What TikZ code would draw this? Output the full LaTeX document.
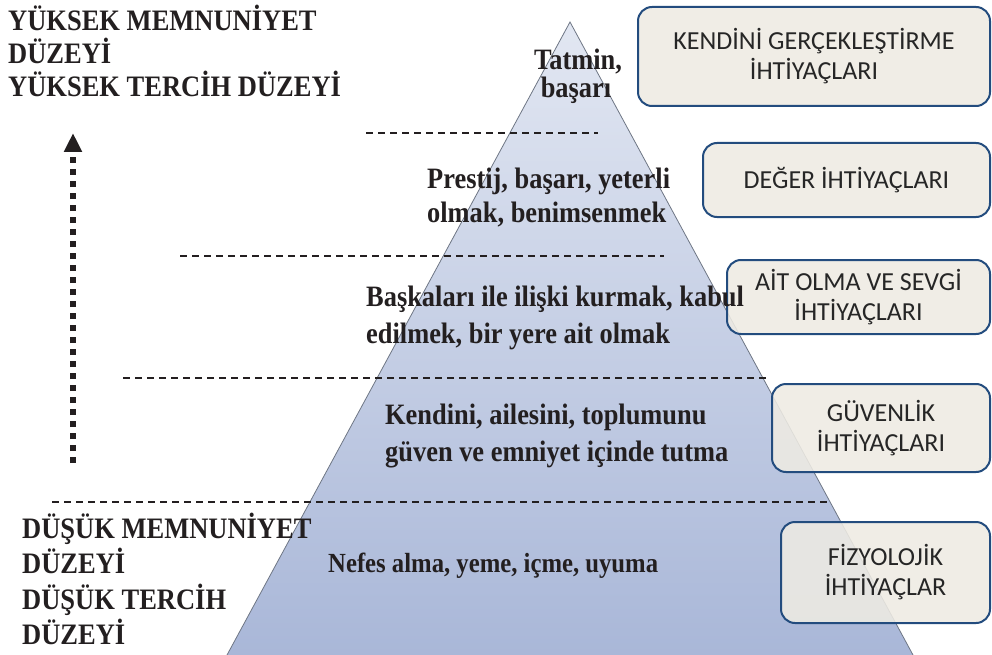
\documentclass[tikz,border=0pt]{standalone}
\usepackage{fontspec}
\setmainfont{Liberation Serif}
\newfontfamily\boxfont{Carlito}
\usetikzlibrary{arrows.meta}
\definecolor{boxfill}{HTML}{EEEBE3}
\definecolor{boxline}{HTML}{234C7E}
\definecolor{pyrtop}{HTML}{E2E7F2}
\definecolor{pyrbot}{HTML}{A9B7D8}
\definecolor{pyredge}{HTML}{6E7684}
\definecolor{txtdark}{HTML}{231F20}
\definecolor{boxtxt}{HTML}{262626}
\newcommand{\tallt}[1]{\scalebox{1}[1.12]{#1}}
\tikzset{
  needbox/.style={draw=boxline, line width=2pt, rounded corners=14pt, fill=boxfill, fill opacity=0.88, text opacity=1, text=boxtxt, align=center, inner sep=0pt, font=\boxfont\fontsize{26}{30}\selectfont},
  headtxt/.style={anchor=base west, inner sep=0pt, text=txtdark, font=\fontsize{26.5}{32}\selectfont\bfseries},
  innertxt/.style={inner sep=0pt, text=txtdark, font=\fontsize{26.4}{32}\selectfont\bfseries},
  levelline/.style={dash pattern=on 7pt off 5pt, line width=1.6pt, draw=txtdark},
  pyredgeline/.style={draw=pyredge, line width=0.8pt}
}
\begin{document}
\begin{tikzpicture}[x=1pt,y=-1pt]
\useasboundingbox (0,0) rectangle (992,655);
% pyramid
\coordinate (apex) at (570,22);
\coordinate (bl) at (227,655);
\coordinate (br) at (913,655);
\shade[top color=pyrtop, bottom color=pyrbot] (apex) -- (bl) -- (br) -- cycle;
\draw[pyredgeline] (bl) -- (apex) -- (br);
% dashed level lines
\coordinate (l1a) at (366,133); \coordinate (l1b) at (598,133);
\coordinate (l2a) at (180,256); \coordinate (l2b) at (664,256);
\coordinate (l3a) at (123,378); \coordinate (l3b) at (770,378);
\coordinate (l4a) at (52,502);  \coordinate (l4b) at (831,502);
\draw[levelline] (l1a) -- (l1b);
\draw[levelline] (l2a) -- (l2b);
\draw[levelline] (l3a) -- (l3b);
\draw[levelline] (l4a) -- (l4b);
% arrow
\coordinate (arrbot) at (73,463);
\coordinate (arrtop) at (73,133);
\draw[line width=6pt, dash pattern=on 6pt off 6pt, draw=txtdark, -{Triangle[width=17pt,length=19pt]}] (arrbot) -- (arrtop);
% boxes
\node[needbox, minimum width=352pt, minimum height=99pt] (b1) at (814,56.5) {KENDİNİ GERÇEKLEŞTİRME\\İHTİYAÇLARI};
\node[needbox, minimum width=287pt, minimum height=74pt] (b2) at (846.5,180) {DEĞER İHTİYAÇLARI};
\node[needbox, minimum width=263pt, minimum height=74pt] (b3) at (858.5,297) {AİT OLMA VE SEVGİ\\İHTİYAÇLARI};
\node[needbox, minimum width=218pt, minimum height=88pt] (b4) at (881,428) {GÜVENLİK\\İHTİYAÇLARI};
\node[needbox, minimum width=209pt, minimum height=101pt] (b5) at (885.5,572.5) {FİZYOLOJİK\\İHTİYAÇLAR};
% headings
\node[headtxt] (h1) at (8,31) {\tallt{YÜKSEK MEMNUNİYET}};
\node[headtxt] (h2) at (8,64) {\tallt{DÜZEYİ}};
\node[headtxt] (h3) at (8,97) {\tallt{YÜKSEK TERCİH DÜZEYİ}};
\node[headtxt] (d1) at (22,538) {\tallt{DÜŞÜK MEMNUNİYET}};
\node[headtxt] (d2) at (22,573) {\tallt{DÜZEYİ}};
\node[headtxt] (d3) at (22,609) {\tallt{DÜŞÜK TERCİH}};
\node[headtxt] (d4) at (22,644) {\tallt{DÜZEYİ}};
% inner texts
\node[innertxt, anchor=base] (t1) at (578,70) {\tallt{Tatmin,}};
\node[innertxt, anchor=base] (t2) at (576,98) {\tallt{başarı}};
\node[innertxt, anchor=base west] (p1) at (427,189) {\tallt{Prestij, başarı, yeterli}};
\node[innertxt, anchor=base west] (p2) at (427,222) {\tallt{olmak, benimsenmek}};
\node[innertxt, anchor=base west] (s1) at (366,306) {\tallt{Başkaları ile ilişki kurmak, kabul}};
\node[innertxt, anchor=base west] (s2) at (366,343) {\tallt{edilmek, bir yere ait olmak}};
\node[innertxt, anchor=base west] (g1) at (385,424) {\tallt{Kendini, ailesini, toplumunu}};
\node[innertxt, anchor=base west] (g2) at (385,461) {\tallt{güven ve emniyet içinde tutma}};
\node[innertxt, anchor=base west, font=\fontsize{24.7}{30}\selectfont\bfseries] (f1) at (328,572) {\tallt{Nefes alma, yeme, içme, uyuma}};
\end{tikzpicture}
\end{document}
